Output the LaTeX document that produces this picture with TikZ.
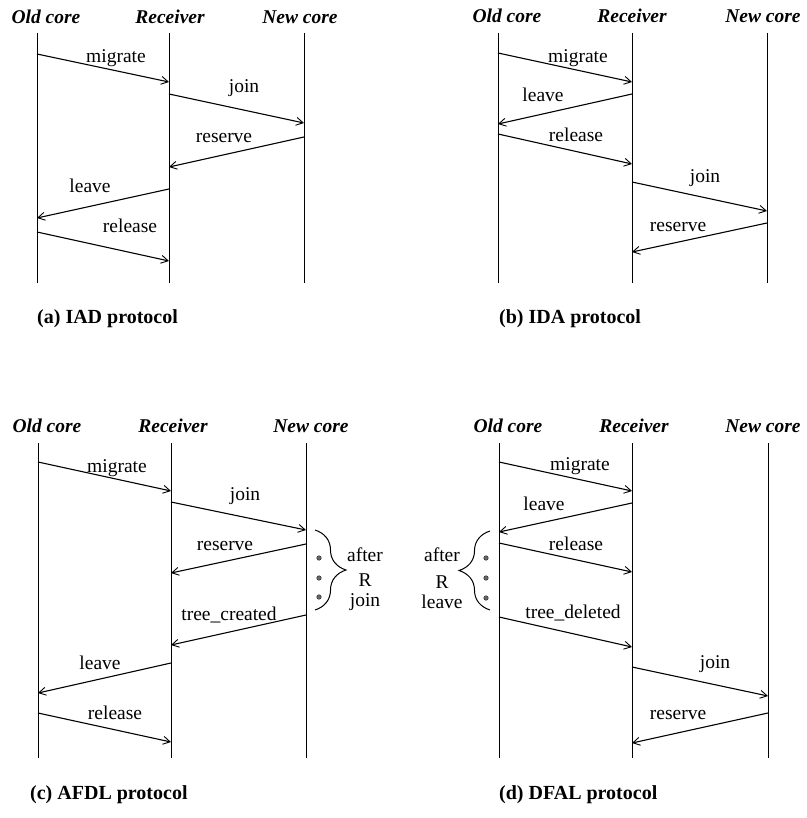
\documentclass[tikz,border=0pt]{standalone}
\usepackage{fontspec}
\setmainfont{Liberation Serif}
\usetikzlibrary{arrows.meta,decorations.pathreplacing}
\tikzset{
  life/.style={line width=0.9pt},
  msg/.style={line width=1.1pt,-{Straight Barb[length=7pt,width=8pt,line width=0.9pt]}},
  lbl/.style={anchor=base,inner sep=0pt,font=\fontsize{19.5}{22}\selectfont},
  hdr/.style={anchor=base,inner sep=0pt,font=\fontsize{19.5}{22}\selectfont\bfseries\itshape},
  captxt/.style={anchor=base west,inner sep=0pt,font=\fontsize{20}{23}\selectfont\bfseries},
  dotm/.style={circle,draw=black!80,fill=black!60,line width=0.5pt,inner sep=0pt,minimum size=4.5pt},
  brc/.style={decorate,decoration={brace,amplitude=31pt},line width=1pt}
}
\begin{document}
\begin{tikzpicture}[x=1pt,y=-1pt]
\useasboundingbox (0,0) rectangle (806,818);
% ================= (a) =================
\node[hdr] (aho) at (46,24) {Old core};
\node[hdr] (ahr) at (170,24) {Receiver};
\node[hdr] (ahn) at (300,24) {New core};
\coordinate (aOt) at (37,33);  \coordinate (aOb) at (37,283);
\coordinate (aRt) at (169,33); \coordinate (aRb) at (169,283);
\coordinate (aNt) at (304,33); \coordinate (aNb) at (304,283);
\draw[life] (aOt) -- (aOb); \draw[life] (aRt) -- (aRb); \draw[life] (aNt) -- (aNb);
\coordinate (a1s) at (37,54);   \coordinate (a1e) at (169,82);
\coordinate (a2s) at (169,94);  \coordinate (a2e) at (304,123);
\coordinate (a3s) at (304,137); \coordinate (a3e) at (169,167);
\coordinate (a4s) at (169,189); \coordinate (a4e) at (37,218);
\coordinate (a5s) at (37,232);  \coordinate (a5e) at (169,261);
\draw[msg] (a1s) -- (a1e); \draw[msg] (a2s) -- (a2e); \draw[msg] (a3s) -- (a3e);
\draw[msg] (a4s) -- (a4e); \draw[msg] (a5s) -- (a5e);
\node[lbl] (al1) at (116,63) {migrate};
\node[lbl] (al2) at (244,93) {join};
\node[lbl] (al3) at (224,143) {reserve};
\node[lbl] (al4) at (90,193) {leave};
\node[lbl] (al5) at (130,233) {release};
\node[captxt] (acap) at (37,323) {(a) IAD protocol};
% ================= (b) =================
\node[hdr] (bho) at (507,23) {Old core};
\node[hdr] (bhr) at (632,23) {Receiver};
\node[hdr] (bhn) at (763,23) {New core};
\coordinate (bOt) at (498,33); \coordinate (bOb) at (498,283);
\coordinate (bRt) at (632,33); \coordinate (bRb) at (632,283);
\coordinate (bNt) at (767,33); \coordinate (bNb) at (767,283);
\draw[life] (bOt) -- (bOb); \draw[life] (bRt) -- (bRb); \draw[life] (bNt) -- (bNb);
\coordinate (b1s) at (498,53);  \coordinate (b1e) at (632,82);
\coordinate (b2s) at (632,94);  \coordinate (b2e) at (498,124);
\coordinate (b3s) at (498,134); \coordinate (b3e) at (632,164);
\coordinate (b4s) at (632,182); \coordinate (b4e) at (767,211);
\coordinate (b5s) at (767,223); \coordinate (b5e) at (632,252);
\draw[msg] (b1s) -- (b1e); \draw[msg] (b2s) -- (b2e); \draw[msg] (b3s) -- (b3e);
\draw[msg] (b4s) -- (b4e); \draw[msg] (b5s) -- (b5e);
\node[lbl] (bl1) at (578,63) {migrate};
\node[lbl] (bl2) at (543,102) {leave};
\node[lbl] (bl3) at (576,142) {release};
\node[lbl] (bl4) at (705,183) {join};
\node[lbl] (bl5) at (678,232) {reserve};
\node[captxt] (bcap) at (499,323) {(b) IDA protocol};
% ================= (c) =================
\node[hdr] (cho) at (47,432) {Old core};
\node[hdr] (chr) at (173,432) {Receiver};
\node[hdr] (chn) at (311,432) {New core};
\coordinate (cOt) at (38,443);  \coordinate (cOb) at (38,758);
\coordinate (cRt) at (171,443); \coordinate (cRb) at (171,758);
\coordinate (cNt) at (306,443); \coordinate (cNb) at (306,758);
\draw[life] (cOt) -- (cOb); \draw[life] (cRt) -- (cRb); \draw[life] (cNt) -- (cNb);
\coordinate (c1s) at (38,462);  \coordinate (c1e) at (171,491);
\coordinate (c2s) at (171,502); \coordinate (c2e) at (306,530);
\coordinate (c3s) at (306,544); \coordinate (c3e) at (171,573);
\coordinate (c4s) at (306,615); \coordinate (c4e) at (171,645);
\coordinate (c5s) at (171,663); \coordinate (c5e) at (38,693);
\coordinate (c6s) at (38,713);  \coordinate (c6e) at (171,742);
\draw[msg] (c1s) -- (c1e); \draw[msg] (c2s) -- (c2e); \draw[msg] (c3s) -- (c3e);
\draw[msg] (c4s) -- (c4e); \draw[msg] (c5s) -- (c5e); \draw[msg] (c6s) -- (c6e);
\node[lbl] (cl1) at (117,472) {migrate};
\node[lbl] (cl2) at (245,500) {join};
\node[lbl] (cl3) at (225,550) {reserve};
\node[lbl] (cl4) at (229,620) {tree\_created};
\node[lbl] (cl5) at (100,669) {leave};
\node[lbl] (cl6) at (115,719) {release};
\coordinate (cbt) at (315,530); \coordinate (cbb) at (315,610);
\draw[brc] (cbt) -- (cbb);
\node[dotm] (cd1) at (319,558) {};
\node[dotm] (cd2) at (319,578) {};
\node[dotm] (cd3) at (319,597) {};
\node[lbl] (ct1) at (365,561) {after};
\node[lbl] (ct2) at (365,586) {R};
\node[lbl] (ct3) at (365,606) {join};
\node[captxt] (ccap) at (30,799) {(c) AFDL protocol};
% ================= (d) =================
\node[hdr] (dho) at (508,432) {Old core};
\node[hdr] (dhr) at (634,432) {Receiver};
\node[hdr] (dhn) at (763,432) {New core};
\coordinate (dOt) at (499,443); \coordinate (dOb) at (499,758);
\coordinate (dRt) at (632,443); \coordinate (dRb) at (632,758);
\coordinate (dNt) at (768,443); \coordinate (dNb) at (768,758);
\draw[life] (dOt) -- (dOb); \draw[life] (dRt) -- (dRb); \draw[life] (dNt) -- (dNb);
\coordinate (d1s) at (499,462); \coordinate (d1e) at (632,491);
\coordinate (d2s) at (632,503); \coordinate (d2e) at (499,532);
\coordinate (d3s) at (499,543); \coordinate (d3e) at (632,572);
\coordinate (d4s) at (499,617); \coordinate (d4e) at (632,647);
\coordinate (d5s) at (632,667); \coordinate (d5e) at (768,696);
\coordinate (d6s) at (768,713); \coordinate (d6e) at (632,743);
\draw[msg] (d1s) -- (d1e); \draw[msg] (d2s) -- (d2e); \draw[msg] (d3s) -- (d3e);
\draw[msg] (d4s) -- (d4e); \draw[msg] (d5s) -- (d5e); \draw[msg] (d6s) -- (d6e);
\node[lbl] (dl1) at (580,470) {migrate};
\node[lbl] (dl2) at (544,510) {leave};
\node[lbl] (dl3) at (576,550) {release};
\node[lbl] (dl4) at (573,618) {tree\_deleted};
\node[lbl] (dl5) at (715,668) {join};
\node[lbl] (dl6) at (678,719) {reserve};
\coordinate (dbb) at (490,610); \coordinate (dbt) at (490,531);
\draw[brc] (dbb) -- (dbt);
\node[dotm] (dd1) at (486,558) {};
\node[dotm] (dd2) at (486,578) {};
\node[dotm] (dd3) at (486,598) {};
\node[lbl] (dt1) at (442,561) {after};
\node[lbl] (dt2) at (442,588) {R};
\node[lbl] (dt3) at (442,608) {leave};
\node[captxt] (dcap) at (499,799) {(d) DFAL protocol};
\end{tikzpicture}
\end{document}
